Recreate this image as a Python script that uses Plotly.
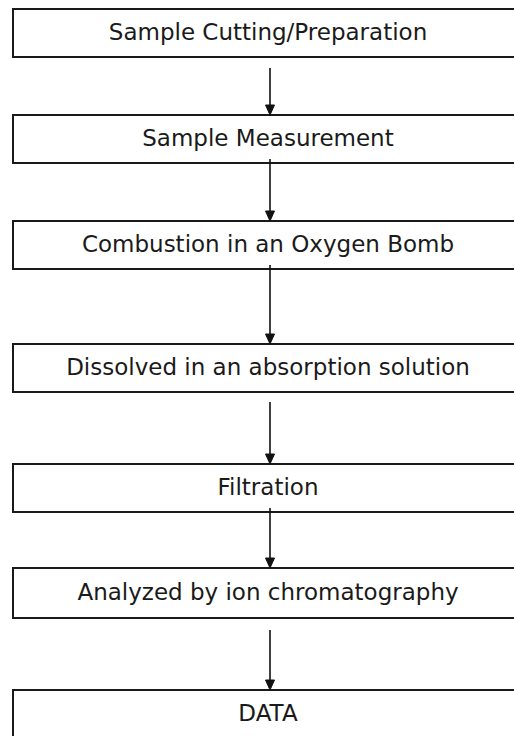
import plotly.graph_objects as go

# Flowchart content
steps = [
    "Sample Cutting/Preparation",
    "Sample Measurement",
    "Combustion in an Oxygen Bomb",
    "Dissolved in an absorption solution",
    "Filtration",
    "Analyzed by ion chromatography",
    "DATA",
]

# Layout (pixel-like coordinates, y grows downward)
box_top = [9, 115, 221, 344, 464, 568, 690]
box_bottom = [57, 163, 269, 392, 512, 618, 738]
arrow_start = [68, 159, 265, 402, 508, 630]
box_left, box_right = 13, 524
center_x = 270
text_x = 268

fig = go.Figure()
shapes = []
for t, b in zip(box_top, box_bottom):
    shapes.append(dict(type="rect", xref="x", yref="y", x0=box_left, x1=box_right,
                       y0=t, y1=b, line=dict(color="#1a1a1a", width=2),
                       fillcolor="rgba(0,0,0,0)"))
head_h, head_w = 10, 9
for i, s in enumerate(arrow_start):
    tip = box_top[i + 1]
    shapes.append(dict(type="line", xref="x", yref="y", x0=center_x, x1=center_x,
                       y0=s, y1=tip - head_h + 1, line=dict(color="#111", width=1.6)))
    shapes.append(dict(type="path", xref="x", yref="y",
                       path=f"M {center_x - head_w/2} {tip - head_h} L {center_x + head_w/2} {tip - head_h} L {center_x} {tip} Z",
                       fillcolor="#111", line=dict(color="#111", width=1)))

fig.add_trace(go.Scatter(
    x=[text_x] * len(steps),
    y=[(t + b) / 2 + 1 for t, b in zip(box_top, box_bottom)],
    text=steps, mode="text",
    textfont=dict(family="DejaVu Sans", size=23, color="#1a1a1a"),
    textposition="middle center", hoverinfo="skip", showlegend=False,
))

fig.update_layout(
    width=514, height=736,
    margin=dict(l=0, r=0, t=0, b=0),
    paper_bgcolor="white", plot_bgcolor="white",
    shapes=shapes,
    xaxis=dict(range=[0, 514], visible=False, fixedrange=True),
    yaxis=dict(range=[736, 0], visible=False, fixedrange=True),
    showlegend=False,
)

fig.write_html("out.html", config={"displayModeBar": False},
               post_script="document.body.style.margin='0';document.body.style.overflow='hidden';")
